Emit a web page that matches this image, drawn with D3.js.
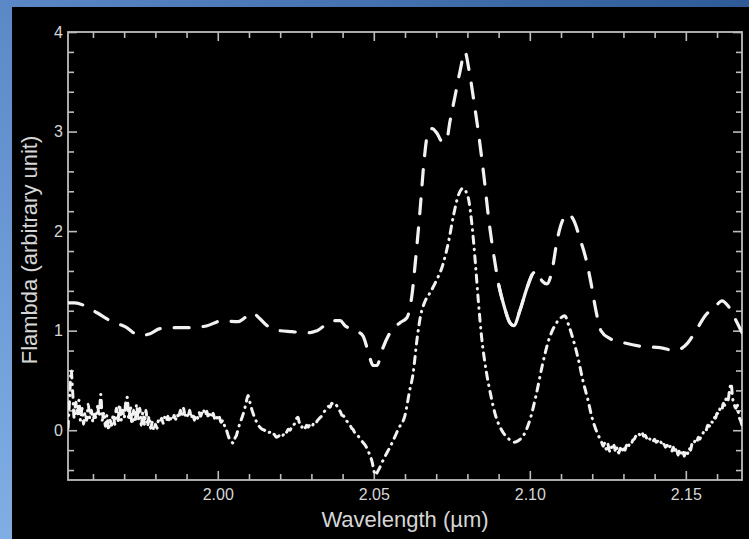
<!DOCTYPE html>
<html>
<head>
<meta charset="utf-8">
<script src="https://cdn.jsdelivr.net/npm/d3@7"></script>
<style>
  body { margin: 0; background: #000; }
  svg { display: block; }
</style>
</head>
<body>
<svg id="chart" width="749" height="539"></svg>
<script>
// Upper spectrum (dashed): [wavelength µm, flux]
const upperSpectrum = [
  [1.9520,1.28],[1.9542,1.28],[1.9574,1.25],[1.9613,1.18],[1.9655,1.10],[1.9703,1.04],[1.9751,0.95],
  [1.9783,0.97],[1.9815,1.02],[1.9863,1.03],[1.9911,1.03],[1.9966,1.05],[2.0014,1.10],[2.0065,1.09],
  [2.0087,1.13],[2.0110,1.18],[2.0135,1.12],[2.0158,1.05],[2.0199,1.00],[2.0238,0.99],[2.0273,0.98],
  [2.0296,0.98],[2.0318,1.00],[2.0369,1.10],[2.0392,1.10],[2.0408,1.05],[2.0440,1.00],[2.0465,0.95],
  [2.0481,0.80],[2.0498,0.65],[2.0510,0.65],[2.0526,0.80],[2.0552,0.98],[2.0584,1.08],[2.0606,1.13],
  [2.0622,1.35],[2.0635,1.75],[2.0648,2.20],[2.0661,2.70],[2.0671,2.95],[2.0687,3.03],[2.0703,2.98],
  [2.0719,2.90],[2.0732,2.90],[2.0744,3.10],[2.0760,3.35],[2.0776,3.60],[2.0792,3.80],[2.0805,3.62],
  [2.0821,3.30],[2.0837,2.95],[2.0853,2.55],[2.0869,2.10],[2.0885,1.75],[2.0901,1.45],[2.0920,1.22],
  [2.0936,1.08],[2.0949,1.05],[2.0968,1.20],[2.0990,1.42],[2.1007,1.56],[2.1023,1.60],[2.1039,1.50],
  [2.1055,1.47],[2.1071,1.60],[2.1087,1.90],[2.1107,2.12],[2.1123,2.17],[2.1142,2.10],[2.1161,1.92],
  [2.1180,1.72],[2.1196,1.48],[2.1212,1.20],[2.1228,1.00],[2.1257,0.92],[2.1299,0.88],[2.1363,0.84],
  [2.1417,0.83],[2.1465,0.80],[2.1507,0.88],[2.1536,1.02],[2.1562,1.15],[2.1594,1.24],[2.1616,1.30],
  [2.1635,1.25],[2.1658,1.12],[2.1680,0.98]
];
// Stretch of the upper spectrum drawn with a continuous stroke
const upperSolidRange = [2.0895, 2.1007];

// Lower spectrum (dash-dot): [wavelength µm, flux]
const lowerSpectrum = [
  [1.9520,0.02],[1.9525,0.30],[1.9530,0.60],[1.9535,0.38],[1.9540,0.12],[1.9545,0.28],[1.9550,0.15],
  [1.9555,0.30],[1.9560,0.10],[1.9565,0.22],[1.9570,0.06],[1.9575,0.18],[1.9580,0.10],[1.9585,0.26],
  [1.9590,0.12],[1.9595,0.20],[1.9600,0.08],[1.9605,0.16],[1.9610,0.12],[1.9615,0.24],[1.9620,0.14],
  [1.9625,0.36],[1.9630,0.10],[1.9635,0.18],[1.9640,0.04],[1.9645,0.15],[1.9650,0.00],[1.9655,0.10],
  [1.9660,0.05],[1.9665,0.16],[1.9670,0.06],[1.9675,0.22],[1.9680,0.08],[1.9685,0.26],[1.9690,0.10],
  [1.9695,0.20],[1.9700,0.12],[1.9705,0.28],[1.9710,0.33],[1.9715,0.10],[1.9720,0.24],[1.9725,0.06],
  [1.9730,0.20],[1.9735,0.08],[1.9740,0.26],[1.9745,0.10],[1.9750,0.22],[1.9755,0.05],[1.9760,0.18],
  [1.9765,0.06],[1.9770,0.20],[1.9775,0.04],[1.9780,0.14],[1.9785,0.02],[1.9790,0.08],[1.9795,0.00],
  [1.9800,0.06],[1.9805,0.02],[1.9810,0.10],[1.9815,0.08],[1.9820,0.12],[1.9825,0.07],[1.9830,0.13],
  [1.9835,0.09],[1.9840,0.14],[1.9845,0.08],[1.9850,0.12],[1.9855,0.10],[1.9860,0.15],[1.9865,0.11],
  [1.9870,0.16],[1.9875,0.12],[1.9880,0.20],[1.9885,0.14],[1.9890,0.22],[1.9895,0.15],[1.9900,0.18],
  [1.9905,0.13],[1.9910,0.20],[1.9915,0.12],[1.9920,0.17],[1.9925,0.10],[1.9930,0.15],[1.9935,0.12],
  [1.9940,0.18],[1.9945,0.14],[1.9953,0.21],[1.9960,0.15],[1.9965,0.19],[1.9970,0.12],[1.9975,0.16],
  [1.9980,0.13],[1.9985,0.17],[1.9990,0.12],[1.9995,0.15],[2.0000,0.10],[2.0005,0.13],[2.0010,0.08],
  [2.0017,0.10],[2.0022,0.04],[2.0028,0.00],[2.0034,-0.06],[2.0039,-0.10],[2.0045,-0.12],[2.0050,-0.13],
  [2.0055,-0.08],[2.0060,-0.05],[2.0066,0.02],[2.0071,0.07],[2.0078,0.13],[2.0085,0.20],[2.0091,0.28],
  [2.0097,0.35],[2.0101,0.30],[2.0105,0.26],[2.0109,0.21],[2.0113,0.17],[2.0119,0.12],[2.0125,0.08],
  [2.0130,0.05],[2.0135,0.03],[2.0142,0.01],[2.0150,0.00],[2.0158,-0.03],[2.0167,-0.02],[2.0174,-0.05],
  [2.0180,-0.04],[2.0188,-0.07],[2.0195,-0.06],[2.0202,-0.03],[2.0209,-0.05],[2.0215,-0.01],[2.0220,-0.02],
  [2.0226,0.01],[2.0232,0.00],[2.0238,0.05],[2.0245,0.06],[2.0251,0.11],[2.0257,0.13],[2.0261,0.08],
  [2.0265,0.07],[2.0269,0.03],[2.0273,0.05],[2.0279,0.02],[2.0285,0.05],[2.0290,0.03],[2.0296,0.06],
  [2.0302,0.04],[2.0308,0.07],[2.0313,0.06],[2.0318,0.09],[2.0326,0.12],[2.0335,0.15],[2.0342,0.19],
  [2.0350,0.21],[2.0355,0.24],[2.0360,0.23],[2.0365,0.27],[2.0369,0.26],[2.0374,0.24],[2.0380,0.25],
  [2.0386,0.21],[2.0392,0.19],[2.0398,0.15],[2.0404,0.14],[2.0409,0.10],[2.0414,0.09],[2.0419,0.06],
  [2.0424,0.05],[2.0429,0.02],[2.0433,0.01],[2.0440,-0.03],[2.0448,-0.05],[2.0455,-0.08],[2.0462,-0.11],
  [2.0470,-0.14],[2.0478,-0.18],[2.0486,-0.24],[2.0494,-0.31],[2.0500,-0.40],[2.0504,-0.45],[2.0515,-0.40],
  [2.0530,-0.30],[2.0555,-0.15],[2.0580,0.02],[2.0600,0.15],[2.0615,0.40],[2.0625,0.55],[2.0640,0.95],
  [2.0650,1.15],[2.0665,1.30],[2.0680,1.38],[2.0700,1.50],[2.0720,1.65],[2.0740,1.90],[2.0755,2.15],
  [2.0770,2.35],[2.0785,2.43],[2.0795,2.40],[2.0805,2.30],[2.0815,2.05],[2.0825,1.70],[2.0835,1.30],
  [2.0845,0.95],[2.0860,0.60],[2.0875,0.35],[2.0890,0.15],[2.0910,0.00],[2.0930,-0.08],[2.0950,-0.12],
  [2.0965,-0.10],[2.0980,-0.05],[2.1000,0.10],[2.1020,0.35],[2.1040,0.65],[2.1060,0.90],[2.1080,1.05],
  [2.1100,1.13],[2.1112,1.15],[2.1125,1.05],[2.1140,0.90],[2.1155,0.72],[2.1170,0.50],[2.1185,0.32],
  [2.1200,0.12],[2.1215,-0.02],[2.1230,-0.12],[2.1235,-0.16],[2.1240,-0.13],[2.1245,-0.19],[2.1250,-0.14],
  [2.1255,-0.21],[2.1260,-0.16],[2.1265,-0.20],[2.1270,-0.15],[2.1275,-0.22],[2.1280,-0.17],[2.1285,-0.23],
  [2.1290,-0.18],[2.1295,-0.22],[2.1300,-0.16],[2.1305,-0.20],[2.1310,-0.15],[2.1315,-0.18],[2.1320,-0.13],
  [2.1325,-0.14],[2.1330,-0.10],[2.1335,-0.09],[2.1340,-0.06],[2.1345,-0.07],[2.1350,-0.04],[2.1355,-0.06],
  [2.1360,-0.03],[2.1365,-0.06],[2.1370,-0.05],[2.1375,-0.08],[2.1380,-0.06],[2.1385,-0.09],[2.1390,-0.08],
  [2.1395,-0.11],[2.1400,-0.09],[2.1405,-0.12],[2.1410,-0.11],[2.1415,-0.14],[2.1420,-0.12],[2.1425,-0.16],
  [2.1430,-0.14],[2.1435,-0.17],[2.1440,-0.15],[2.1445,-0.19],[2.1450,-0.16],[2.1455,-0.21],[2.1460,-0.17],
  [2.1465,-0.23],[2.1470,-0.18],[2.1475,-0.25],[2.1480,-0.19],[2.1485,-0.23],[2.1490,-0.20],[2.1495,-0.26],
  [2.1500,-0.21],[2.1505,-0.24],[2.1510,-0.18],[2.1515,-0.20],[2.1520,-0.14],[2.1525,-0.15],[2.1530,-0.10],
  [2.1535,-0.12],[2.1540,-0.07],[2.1545,-0.09],[2.1550,-0.04],[2.1555,-0.03],[2.1560,0.01],[2.1565,0.00],
  [2.1570,0.05],[2.1575,0.04],[2.1580,0.09],[2.1585,0.08],[2.1590,0.13],[2.1595,0.12],[2.1600,0.17],
  [2.1605,0.16],[2.1610,0.22],[2.1615,0.20],[2.1620,0.27],[2.1625,0.25],[2.1630,0.33],[2.1635,0.30],
  [2.1640,0.40],[2.1645,0.47],[2.1650,0.32],[2.1655,0.26],[2.1660,0.22],[2.1665,0.25],[2.1670,0.14],
  [2.1675,0.10],[2.1680,0.05]
];

// Axis ticks and labels
const xMajorTicks = [2.00, 2.05, 2.10, 2.15];
const xMajorLabels = ["2.00", "2.05", "2.10", "2.15"];
const yMajorTicks = [0, 1, 2, 3, 4];
const yMajorLabels = ["0", "1", "2", "3", "4"];
const xDomain = [1.952, 2.168];
const yDomain = [-0.5, 4];
const xTitle = "Wavelength (µm)";
const yTitle = "Flambda (arbitrary unit)";

const W = 749, H = 539;
const plot = { left: 68, right: 742, top: 32, bottom: 480 };
const ink = "#f2f2f2";
const axisInk = "#bdbdbd";
const labelInk = "#d6d6d6";
const font = "'Liberation Sans', Arial, Helvetica, sans-serif";

const svg = d3.select("#chart");

// Blue backdrop with the black panel on top
const defs = svg.append("defs");
const grad = defs.append("linearGradient").attr("id", "bg")
  .attr("x1", "0%").attr("y1", "100%").attr("x2", "100%").attr("y2", "0%");
grad.append("stop").attr("offset", "0%").attr("stop-color", "#80aee4");
grad.append("stop").attr("offset", "45%").attr("stop-color", "#5f8ccb");
grad.append("stop").attr("offset", "100%").attr("stop-color", "#2e5a97");
svg.append("rect").attr("width", W).attr("height", H).attr("fill", "url(#bg)");
svg.append("rect").attr("x", 12).attr("y", 7).attr("width", W - 12).attr("height", H - 7).attr("fill", "#000");

const x = d3.scaleLinear().domain(xDomain).range([plot.left, plot.right]);
const y = d3.scaleLinear().domain(yDomain).range([plot.bottom, plot.top]);

const xMinor = d3.range(196, 217).map(v => v / 100).filter(v => !xMajorTicks.some(m => Math.abs(m - v) < 1e-6));
const yMinor = d3.range(-2, 20).map(v => v / 5).filter(v => !yMajorTicks.some(m => Math.abs(m - v) < 1e-6));

function styleAxis(g) {
  g.select(".domain").remove();
  g.selectAll("line").attr("stroke", axisInk).attr("stroke-width", 1.6);
  g.selectAll("text").attr("fill", labelInk).attr("font-family", font).attr("font-size", 16);
}

const majorLen = 9, minorLen = 6;

// bottom
svg.append("g").attr("transform", `translate(0,${plot.bottom})`)
  .call(d3.axisBottom(x).tickValues(xMajorTicks).tickSize(-majorLen).tickPadding(9)
    .tickFormat((d, i) => xMajorLabels[i]))
  .call(styleAxis);
svg.append("g").attr("transform", `translate(0,${plot.bottom})`)
  .call(d3.axisBottom(x).tickValues(xMinor).tickSize(-minorLen).tickFormat(""))
  .call(styleAxis);
// top
svg.append("g").attr("transform", `translate(0,${plot.top})`)
  .call(d3.axisTop(x).tickValues(xMajorTicks).tickSize(-majorLen).tickFormat(""))
  .call(styleAxis);
svg.append("g").attr("transform", `translate(0,${plot.top})`)
  .call(d3.axisTop(x).tickValues(xMinor).tickSize(-minorLen).tickFormat(""))
  .call(styleAxis);
// left
svg.append("g").attr("transform", `translate(${plot.left},0)`)
  .call(d3.axisLeft(y).tickValues(yMajorTicks).tickSize(-majorLen).tickPadding(5)
    .tickFormat((d, i) => yMajorLabels[i]))
  .call(styleAxis);
svg.append("g").attr("transform", `translate(${plot.left},0)`)
  .call(d3.axisLeft(y).tickValues(yMinor).tickSize(-minorLen).tickFormat(""))
  .call(styleAxis);
// right
svg.append("g").attr("transform", `translate(${plot.right},0)`)
  .call(d3.axisRight(y).tickValues(yMajorTicks).tickSize(-majorLen).tickFormat(""))
  .call(styleAxis);
svg.append("g").attr("transform", `translate(${plot.right},0)`)
  .call(d3.axisRight(y).tickValues(yMinor).tickSize(-minorLen).tickFormat(""))
  .call(styleAxis);

// frame
svg.append("rect")
  .attr("x", plot.left).attr("y", plot.top)
  .attr("width", plot.right - plot.left).attr("height", plot.bottom - plot.top)
  .attr("fill", "none").attr("stroke", axisInk).attr("stroke-width", 1.8);

// axis titles
svg.append("text")
  .attr("x", (plot.left + plot.right) / 2).attr("y", 527)
  .attr("text-anchor", "middle").attr("fill", labelInk)
  .attr("font-family", font).attr("font-size", 22)
  .text(xTitle);
svg.append("text")
  .attr("transform", `translate(37,${(plot.top + plot.bottom) / 2 - 6}) rotate(-90)`)
  .attr("text-anchor", "middle").attr("fill", labelInk)
  .attr("font-family", font).attr("font-size", 22)
  .text(yTitle);

// spectra
const upper = upperSpectrum.map(([w, f]) => ({ w, f }));
const lower = lowerSpectrum.map(([w, f]) => ({ w, f }));
const line = d3.line().x(d => x(d.w)).y(d => y(d.f)).curve(d3.curveMonotoneX);

const clip = defs.append("clipPath").attr("id", "plotClip");
clip.append("rect").attr("x", plot.left).attr("y", plot.top)
  .attr("width", plot.right - plot.left).attr("height", plot.bottom - plot.top);
const curves = svg.append("g").attr("clip-path", "url(#plotClip)");

curves.append("path").datum(lower)
  .attr("d", line)
  .attr("fill", "none").attr("stroke", ink).attr("stroke-width", 3)
  .attr("stroke-linecap", "round").attr("stroke-linejoin", "round")
  .attr("stroke-dasharray", "7,6,0.5,6");

curves.append("path").datum(upper)
  .attr("d", line)
  .attr("fill", "none").attr("stroke", ink).attr("stroke-width", 3.2)
  .attr("stroke-linecap", "round").attr("stroke-linejoin", "round")
  .attr("stroke-dasharray", "15,14");

// continuous part of the upper spectrum around the 2.095 µm dip
const upperSolid = upper.filter(d => d.w >= upperSolidRange[0] && d.w <= upperSolidRange[1]);
curves.append("path").datum(upperSolid)
  .attr("d", line)
  .attr("fill", "none").attr("stroke", ink).attr("stroke-width", 3.2)
  .attr("stroke-linecap", "round").attr("stroke-linejoin", "round");
</script>
</body>
</html>
